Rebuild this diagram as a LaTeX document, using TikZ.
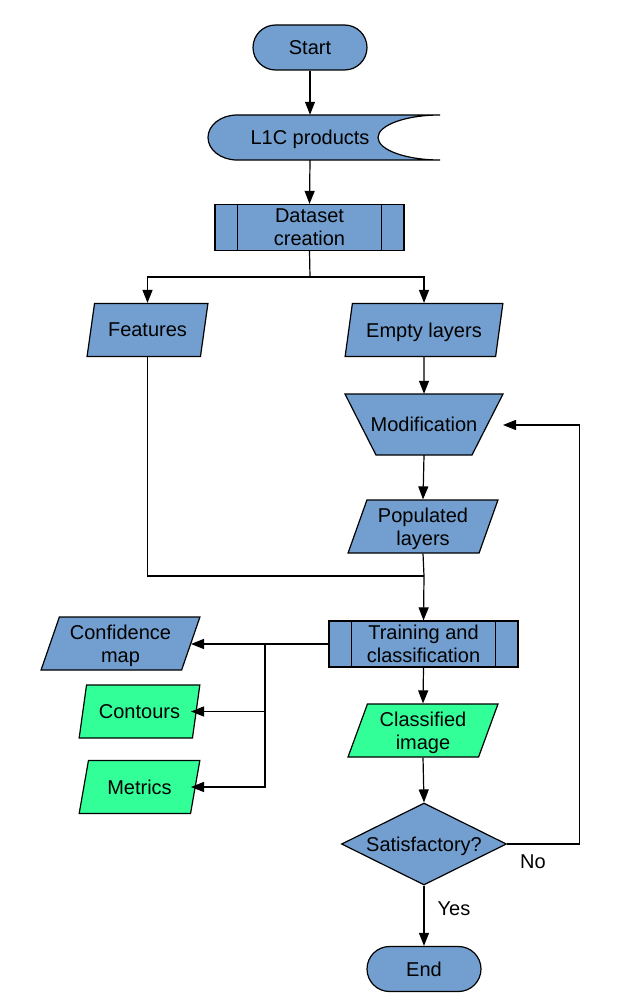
\documentclass[tikz,border=0pt]{standalone}
\usepackage{fontspec}
\setmainfont{Liberation Sans}
\usetikzlibrary{arrows.meta,shapes.geometric,calc}
\definecolor{blu}{HTML}{729FCF}
\definecolor{grn}{HTML}{33FF99}
\begin{document}
\begin{tikzpicture}[x=1pt,y=1pt,
  every node/.style={font=\fontsize{20}{23}\selectfont, align=center, inner sep=0pt, text depth=0pt},
  base/.style={draw=black, line width=1.2pt, fill=blu},
  term/.style={base, rectangle, rounded corners=22.5pt, minimum width=114, minimum height=45},
  proc/.style={base, rectangle, minimum width=189, minimum height=46},
  io/.style={base, trapezium, trapezium stretches=true, trapezium left angle=68, trapezium right angle=112, minimum height=53},
  dec/.style={base, diamond, aspect=2, minimum width=165, minimum height=82},
  arr/.style={line width=1.2pt, -{Triangle[length=13pt,width=10pt]}},
  ln/.style={line width=1.2pt},
  lbl/.style={font=\fontsize{20}{23}\selectfont}]
\useasboundingbox (0,0) rectangle (630,-1006);

% Start
\node[term] (start) at (310,-47.5) {Start};

% L1C products (stored data)
\filldraw[base] (237,-115) -- (440,-115)
  arc[start angle=90, end angle=270, x radius=62, y radius=22.5]
  -- (237,-160)
  arc[start angle=270, end angle=90, x radius=29, y radius=22.5] -- cycle;
\node[minimum width=232, minimum height=45] (l1c) at (310,-137.5) {L1C products};

% Dataset creation
\node[proc] (ds) at (309.5,-227.5) {Dataset\\creation};
\draw[ln] ([xshift=23]ds.north west) -- ([xshift=23]ds.south west);
\draw[ln] ([xshift=-23]ds.north east) -- ([xshift=-23]ds.south east);

% Features / Empty layers
\node[io, minimum width=121] (feat) at (147.5,-330) {Features};
\node[io, minimum width=158] (empty) at (424,-330) {Empty layers};

% Modification (manual trapezoid)
\filldraw[base] (345,-394) -- (503,-394) -- (472,-455) -- (376,-455) -- cycle;
\node[minimum width=158, minimum height=61] (mod) at (424,-424.5) {Modification};
\coordinate (fbend) at (503,-425);

% Populated layers
\node[io, minimum width=150] (pop) at (423,-526.5) {Populated\\layers};

% Training and classification
\node[proc] (tr) at (423.5,-644) {Training and\\classification};
\draw[ln] ([xshift=23]tr.north west) -- ([xshift=23]tr.south west);
\draw[ln] ([xshift=-23]tr.north east) -- ([xshift=-23]tr.south east);

% Outputs
\node[io, minimum width=159] (conf) at (120.5,-643.5) {Confidence\\map};
\node[io, fill=grn, minimum width=121] (cont) at (139.5,-711.5) {Contours};
\node[io, fill=grn, minimum width=121] (met) at (139.5,-787) {Metrics};

% Classified image
\node[io, fill=grn, minimum width=150] (cls) at (423,-730.5) {Classified\\image};

% Decision
\node[dec] (dec) at (424,-844) {Satisfactory?};

% End
\node[term] (end) at (424,-969) {End};

% Labels
\node[lbl] (no) at (533,-862) {No};
\node[lbl] (yes) at (454,-909) {Yes};

% Connectors
\coordinate (sp) at (310,-277);
\coordinate (mg) at (424,-576);
\coordinate (fan) at (265,-644);
\coordinate (tipx) at (191,0);

\draw[arr] (start.south) -- (l1c.north);
\draw[arr] (l1c.south) -- (ds.north);
\draw[ln] (ds.south) -- (sp);
\draw[arr] (sp) -| (feat.north);
\draw[arr] (sp) -| (empty.north);
\draw[arr] (empty.south) -- (mod.north);
\draw[arr] (mod.south) -- (pop.north);
\draw[ln] (feat.south) |- (mg);
\draw[ln] (pop.south) -- (mg);
\draw[arr] (mg) -- (tr.north);
\draw[arr] (tr.west) -- (tipx |- tr.west);
\draw[arr] (fan) |- (tipx |- cont.center);
\draw[arr] (fan) |- (tipx |- met.center);
\draw[arr] (tr.south) -- (cls.north);
\draw[arr] (cls.south) -- (dec.north);
\draw[arr] (dec.south) -- (end.north);
\draw[arr] (dec.east) -- ++(72,0) |- (fbend);
\end{tikzpicture}
\end{document}
